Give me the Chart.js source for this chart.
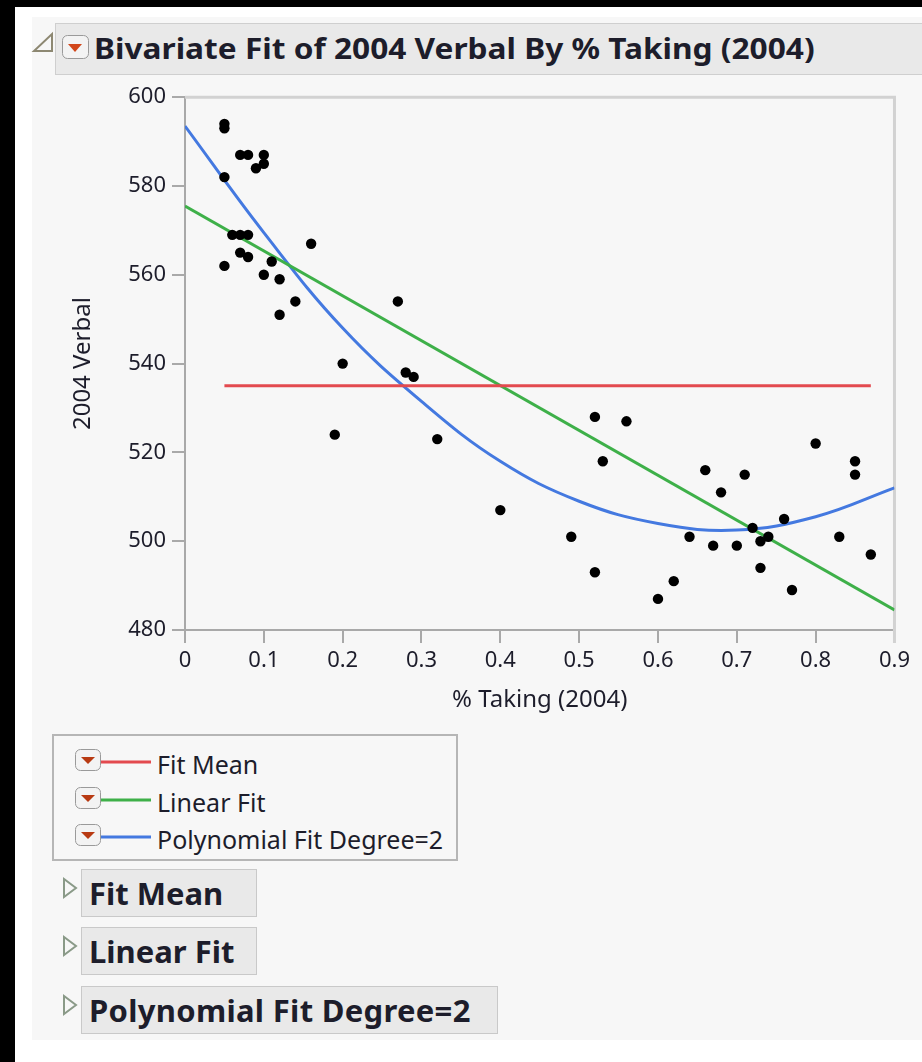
<!DOCTYPE html>
<html lang="en">
<head>
<meta charset="UTF-8" />
<title>Bivariate Fit of 2004 Verbal By % Taking (2004)</title>
<script src="https://cdn.jsdelivr.net/npm/chart.js"></script>
<style>
  body { margin: 0; background: #000; width: 922px; height: 1062px; position: relative; overflow: hidden;
         font-family: "Noto Sans", "Open Sans", sans-serif; color: #1d1d2b; }
  .sheet { position: absolute; left: 15px; top: 7px; right: 0; bottom: 0; background: #fff; }
  .panel { position: absolute; left: 32px; top: 17px; width: 890px; height: 1023px; background: #f7f7f7; }
  .titlebar { position: absolute; left: 55px; top: 23px; width: 867px; height: 50px; background: #e9e9e9;
              border: 1px solid #cfcfcf; border-right: none; }
  .title { position: absolute; left: 94px; top: 29px; font-size: 28px; font-weight: bold; line-height: 38px;
           white-space: nowrap; transform: scaleX(1.13); transform-origin: left center; }
  .chartbox { position: absolute; left: 62px; top: 78px; width: 853px; height: 638px; }
  .legend { position: absolute; left: 52px; top: 734px; width: 402px; height: 123px; border: 2px solid #b6b6b6; }
  .legrow { position: absolute; left: 157px; height: 30px; font-size: 25px; line-height: 30px; white-space: nowrap; }
  .btn { position: absolute; left: 81px; height: 48px; background: #e9e9e9; border: 1px solid #c9c9c9;
         font-size: 31px; font-weight: bold; line-height: 46px; padding-left: 7px; white-space: nowrap; box-sizing: border-box; }
  svg.ic { position: absolute; overflow: visible; }
</style>
</head>
<body>
<div class="sheet"></div>
<div class="panel"></div>
<div class="titlebar"></div>

<!-- disclosure + dropdown icons, legend swatches -->
<svg class="ic" style="left:0;top:0" width="922" height="1062">
  <polygon points="52,34 52,51 34,51" fill="none" stroke="#8d8872" stroke-width="2"/>
  <rect x="62.5" y="35.5" width="26" height="23" rx="5" fill="#f3f3f3" stroke="#9a9a9a"/>
  <polygon points="68,44 82,44 75,52" fill="#d2461a"/>

  <rect x="75.5" y="749.5" width="25" height="21" rx="5" fill="#f3f3f3" stroke="#9a9a9a"/>
  <polygon points="81,757 95,757 88,764" fill="#b83a12"/>
  <rect x="75.5" y="787.5" width="25" height="21" rx="5" fill="#f3f3f3" stroke="#9a9a9a"/>
  <polygon points="81,795 95,795 88,802" fill="#b83a12"/>
  <rect x="75.5" y="824.5" width="25" height="21" rx="5" fill="#f3f3f3" stroke="#9a9a9a"/>
  <polygon points="81,832 95,832 88,839" fill="#b83a12"/>
  <line x1="101" y1="762" x2="151" y2="762" stroke="#e34a4f" stroke-width="3"/>
  <line x1="101" y1="800" x2="151" y2="800" stroke="#3eb049" stroke-width="3"/>
  <line x1="101" y1="837" x2="151" y2="837" stroke="#4479e0" stroke-width="3"/>

  <polygon points="64,879 64,897 76,888" fill="none" stroke="#8a9a88" stroke-width="2"/>
  <polygon points="64,937 64,955 76,946" fill="none" stroke="#8a9a88" stroke-width="2"/>
  <polygon points="64,996 64,1014 76,1005" fill="none" stroke="#8a9a88" stroke-width="2"/>
</svg>

<div class="title">Bivariate Fit of 2004 Verbal By % Taking (2004)</div>

<div class="chartbox"><canvas id="fitChart"></canvas></div>

<div class="legend"></div>
<div class="legrow" style="top:749px">Fit Mean</div>
<div class="legrow" style="top:787px">Linear Fit</div>
<div class="legrow" style="top:824px">Polynomial Fit Degree=2</div>

<div class="btn" style="top:869px;width:176px">Fit Mean</div>
<div class="btn" style="top:927px;width:176px">Linear Fit</div>
<div class="btn" style="top:986px;width:417px;letter-spacing:0.3px">Polynomial Fit Degree=2</div>

<script>
  // states: % taking vs verbal score
  const pctTaking = [0.05, 0.05, 0.05, 0.07, 0.08, 0.10, 0.10, 0.09, 0.06, 0.07,
                     0.08, 0.07, 0.08, 0.05, 0.11, 0.10, 0.12, 0.16, 0.14, 0.12,
                     0.27, 0.20, 0.28, 0.29, 0.19, 0.32, 0.40, 0.52, 0.56, 0.53,
                     0.49, 0.52, 0.60, 0.62, 0.64, 0.66, 0.67, 0.68, 0.70, 0.71,
                     0.72, 0.73, 0.74, 0.73, 0.76, 0.77, 0.80, 0.83, 0.85, 0.85, 0.87];
  const verbal = [594, 593, 582, 587, 587, 587, 585, 584, 569, 569,
                  569, 565, 564, 562, 563, 560, 559, 567, 554, 551,
                  554, 540, 538, 537, 524, 523, 507, 528, 527, 518,
                  501, 493, 487, 491, 501, 516, 499, 511, 499, 515,
                  503, 500, 501, 494, 505, 489, 522, 501, 518, 515, 497];

  // fitted lines
  const meanX = [0.05, 0.87];
  const meanY = [535, 535];
  const linearX = [0, 0.9];
  const linearY = [575.5, 484.5];
  const polyX = [0, 0.1, 0.2, 0.3, 0.4, 0.5, 0.6, 0.7, 0.8, 0.9];
  const polyY = [593.5, 569.5, 548, 531.5, 518, 509, 504, 502.5, 505.5, 512];

  const xTickValues = [0, 0.1, 0.2, 0.3, 0.4, 0.5, 0.6, 0.7, 0.8, 0.9];
  const xTickLabels = ['0', '0.1', '0.2', '0.3', '0.4', '0.5', '0.6', '0.7', '0.8', '0.9'];
  const yTickValues = [480, 500, 520, 540, 560, 580, 600];
  const yTickLabels = ['480', '500', '520', '540', '560', '580', '600'];

  const pts = (xs, ys) => xs.map((x, i) => ({ x: x, y: ys[i] }));

  const axisGray = '#a9a9a9';
  const textCol = '#1d1d2b';
  const fam = '"Noto Sans", "Open Sans", sans-serif';

  // top + right edge of the plot frame
  const framePlugin = {
    id: 'frame',
    beforeDatasetsDraw(chart) {
      const { ctx, chartArea: a } = chart;
      ctx.save();
      ctx.strokeStyle = '#d2d2d2';
      ctx.lineWidth = 3;
      ctx.beginPath();
      ctx.moveTo(a.left, a.top);
      ctx.lineTo(a.right, a.top);
      ctx.lineTo(a.right, a.bottom + 13);
      ctx.stroke();
      ctx.restore();
    }
  };

  new Chart(document.getElementById('fitChart'), {
    type: 'scatter',
    data: {
      datasets: [
        { label: 'States', data: pts(pctTaking, verbal), backgroundColor: '#000', borderColor: '#000',
          pointRadius: 5.2, pointHoverRadius: 5.2, borderWidth: 0 },
        { label: 'Fit Mean', data: pts(meanX, meanY), showLine: true, borderColor: '#e34a4f',
          borderWidth: 3, pointRadius: 0 },
        { label: 'Linear Fit', data: pts(linearX, linearY), showLine: true, borderColor: '#3eb049',
          borderWidth: 3, pointRadius: 0 },
        { label: 'Polynomial Fit Degree=2', data: pts(polyX, polyY), showLine: true, borderColor: '#4479e0',
          borderWidth: 3, pointRadius: 0, tension: 0.4 }
      ]
    },
    options: {
      responsive: true,
      maintainAspectRatio: false,
      animation: false,
      layout: { padding: { top: 10, right: 13, left: 0, bottom: 0 } },
      plugins: { legend: { display: false }, tooltip: { enabled: false } },
      scales: {
        x: {
          type: 'linear', min: 0, max: 0.9,
          afterBuildTicks: s => { s.ticks = xTickValues.map(v => ({ value: v })); },
          afterFit: s => { s.height = 86; },
          ticks: { color: textCol, font: { family: fam, size: 22 }, padding: 5, maxRotation: 0,
                   callback: (v, i) => xTickLabels[i] },
          grid: { drawOnChartArea: false, color: axisGray, lineWidth: 2, tickLength: 13 },
          border: { color: axisGray, width: 2 },
          title: { display: true, text: '% Taking (2004)', color: textCol,
                   font: { family: fam, size: 24 }, padding: { bottom: 1 } }
        },
        y: {
          type: 'linear', min: 480, max: 600,
          afterBuildTicks: s => { s.ticks = yTickValues.map(v => ({ value: v })); },
          afterFit: s => { s.width = 123; },
          ticks: { color: textCol, font: { family: fam, size: 22 }, padding: 6,
                   callback: (v, i) => yTickLabels[i] },
          grid: { drawOnChartArea: false, color: axisGray, lineWidth: 2, tickLength: 13 },
          border: { color: axisGray, width: 2 },
          title: { display: true, text: '2004 Verbal', color: textCol,
                   font: { family: fam, size: 24 }, padding: { top: 7 } }
        }
      }
    },
    plugins: [framePlugin]
  });
</script>
</body>
</html>
